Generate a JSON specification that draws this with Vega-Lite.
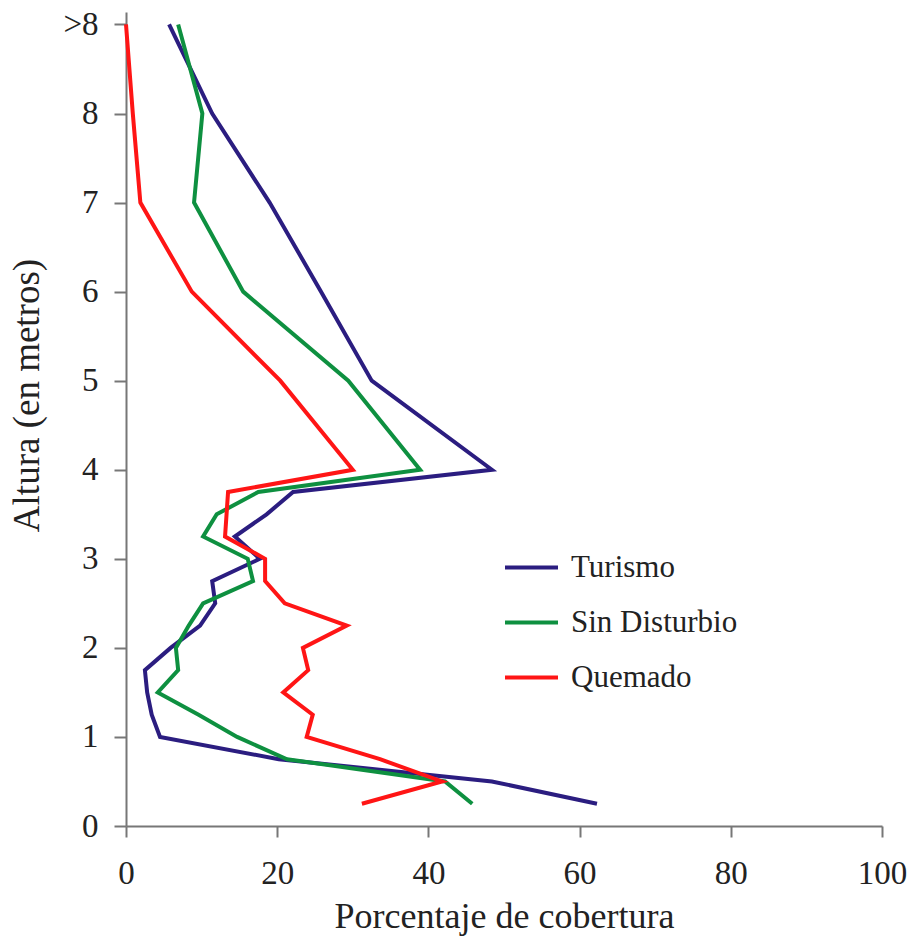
{
  "$schema": "https://vega.github.io/schema/vega-lite/v6.json",
  "width": 756,
  "height": 814,
  "autosize": {"type": "none"},
  "padding": {"left": 126, "top": 12, "right": 33, "bottom": 121},
  "background": "white",
  "config": {
    "view": {"stroke": null},
    "font": "Liberation Serif",
    "axis": {"grid": false}
  },
  "data": {
    "values": [
      {"serie": "Turismo", "altura": 9, "cobertura": 5.7},
      {"serie": "Turismo", "altura": 8, "cobertura": 11.4},
      {"serie": "Turismo", "altura": 7, "cobertura": 19.0},
      {"serie": "Turismo", "altura": 6, "cobertura": 25.8},
      {"serie": "Turismo", "altura": 5, "cobertura": 32.5},
      {"serie": "Turismo", "altura": 4, "cobertura": 48.4},
      {"serie": "Turismo", "altura": 3.75, "cobertura": 22.1},
      {"serie": "Turismo", "altura": 3.5, "cobertura": 18.6},
      {"serie": "Turismo", "altura": 3.25, "cobertura": 14.4},
      {"serie": "Turismo", "altura": 3.0, "cobertura": 17.7},
      {"serie": "Turismo", "altura": 2.75, "cobertura": 11.4},
      {"serie": "Turismo", "altura": 2.5, "cobertura": 11.8},
      {"serie": "Turismo", "altura": 2.25, "cobertura": 9.8},
      {"serie": "Turismo", "altura": 2.0, "cobertura": 5.9},
      {"serie": "Turismo", "altura": 1.75, "cobertura": 2.5},
      {"serie": "Turismo", "altura": 1.5, "cobertura": 2.8},
      {"serie": "Turismo", "altura": 1.25, "cobertura": 3.4},
      {"serie": "Turismo", "altura": 1.0, "cobertura": 4.5},
      {"serie": "Turismo", "altura": 0.75, "cobertura": 20.2},
      {"serie": "Turismo", "altura": 0.5, "cobertura": 48.4},
      {"serie": "Turismo", "altura": 0.25, "cobertura": 62.3},
      {"serie": "Sin Disturbio", "altura": 9, "cobertura": 6.9},
      {"serie": "Sin Disturbio", "altura": 8, "cobertura": 10.1},
      {"serie": "Sin Disturbio", "altura": 7, "cobertura": 9.0},
      {"serie": "Sin Disturbio", "altura": 6, "cobertura": 15.5},
      {"serie": "Sin Disturbio", "altura": 5, "cobertura": 29.4},
      {"serie": "Sin Disturbio", "altura": 4, "cobertura": 38.9},
      {"serie": "Sin Disturbio", "altura": 3.75, "cobertura": 17.5},
      {"serie": "Sin Disturbio", "altura": 3.5, "cobertura": 12.0},
      {"serie": "Sin Disturbio", "altura": 3.25, "cobertura": 10.2},
      {"serie": "Sin Disturbio", "altura": 3.0, "cobertura": 16.1},
      {"serie": "Sin Disturbio", "altura": 2.75, "cobertura": 16.8},
      {"serie": "Sin Disturbio", "altura": 2.5, "cobertura": 10.2},
      {"serie": "Sin Disturbio", "altura": 2.25, "cobertura": 8.3},
      {"serie": "Sin Disturbio", "altura": 2.0, "cobertura": 6.6},
      {"serie": "Sin Disturbio", "altura": 1.75, "cobertura": 6.9},
      {"serie": "Sin Disturbio", "altura": 1.5, "cobertura": 4.2},
      {"serie": "Sin Disturbio", "altura": 1.25, "cobertura": 9.6},
      {"serie": "Sin Disturbio", "altura": 1.0, "cobertura": 14.7},
      {"serie": "Sin Disturbio", "altura": 0.75, "cobertura": 21.3},
      {"serie": "Sin Disturbio", "altura": 0.5, "cobertura": 42.2},
      {"serie": "Sin Disturbio", "altura": 0.25, "cobertura": 45.8},
      {"serie": "Quemado", "altura": 9, "cobertura": 0.0},
      {"serie": "Quemado", "altura": 8, "cobertura": 0.9},
      {"serie": "Quemado", "altura": 7, "cobertura": 1.9},
      {"serie": "Quemado", "altura": 6, "cobertura": 8.7},
      {"serie": "Quemado", "altura": 5, "cobertura": 20.4},
      {"serie": "Quemado", "altura": 4, "cobertura": 30.0},
      {"serie": "Quemado", "altura": 3.75, "cobertura": 13.5},
      {"serie": "Quemado", "altura": 3.5, "cobertura": 13.3},
      {"serie": "Quemado", "altura": 3.25, "cobertura": 13.1},
      {"serie": "Quemado", "altura": 3.0, "cobertura": 18.4},
      {"serie": "Quemado", "altura": 2.75, "cobertura": 18.4},
      {"serie": "Quemado", "altura": 2.5, "cobertura": 21.0},
      {"serie": "Quemado", "altura": 2.25, "cobertura": 29.2},
      {"serie": "Quemado", "altura": 2.0, "cobertura": 23.4},
      {"serie": "Quemado", "altura": 1.75, "cobertura": 24.1},
      {"serie": "Quemado", "altura": 1.5, "cobertura": 20.8},
      {"serie": "Quemado", "altura": 1.25, "cobertura": 24.7},
      {"serie": "Quemado", "altura": 1.0, "cobertura": 23.9},
      {"serie": "Quemado", "altura": 0.75, "cobertura": 33.6},
      {"serie": "Quemado", "altura": 0.5, "cobertura": 41.8},
      {"serie": "Quemado", "altura": 0.25, "cobertura": 31.2}
    ]
  },
  "mark": {"type": "line", "strokeWidth": 4, "strokeJoin": "miter"},
  "encoding": {
    "x": {
      "field": "cobertura",
      "type": "quantitative",
      "scale": {"domain": [0, 100], "nice": false},
      "axis": {
        "title": "Porcentaje de cobertura",
        "values": [0, 20, 40, 60, 80, 100],
        "domainColor": "#777777",
        "domainWidth": 2,
        "tickColor": "#777777",
        "tickWidth": 2,
        "tickSize": 11,
        "labelFontSize": 33,
        "labelColor": "#222222",
        "labelPadding": 20,
        "labelFlush": false,
        "titleFontSize": 36,
        "titleFontWeight": "normal",
        "titleColor": "#222222",
        "titleBaseline": "alphabetic",
        "titleY": 101
      }
    },
    "y": {
      "field": "altura",
      "type": "quantitative",
      "scale": {"domain": [0, 9.14], "nice": false},
      "axis": {
        "title": "Altura (en metros)",
        "values": [0, 1, 2, 3, 4, 5, 6, 7, 8, 9],
        "labelExpr": "datum.value == 9 ? '>8' : datum.label",
        "domainColor": "#777777",
        "domainWidth": 2,
        "tickColor": "#777777",
        "tickWidth": 2,
        "tickSize": 12,
        "labelFontSize": 33,
        "labelColor": "#222222",
        "labelPadding": 16,
        "labelFlush": false,
        "labelBaseline": "middle",
        "titleFontSize": 37,
        "titleFontWeight": "normal",
        "titleColor": "#222222",
        "titleBaseline": "alphabetic",
        "titleX": -88,
        "titleY": 383
      }
    },
    "color": {
      "field": "serie",
      "type": "nominal",
      "scale": {
        "domain": ["Turismo", "Sin Disturbio", "Quemado"],
        "range": ["#2B1D80", "#0E9040", "#FF1515"]
      },
      "legend": {
        "title": null,
        "orient": "none",
        "legendX": 377,
        "legendY": 527,
        "padding": 0,
        "symbolType": "stroke",
        "symbolSize": 2809,
        "symbolStrokeWidth": 4,
        "labelFontSize": 31,
        "labelColor": "#222222",
        "labelOffset": 11,
        "rowPadding": 11,
        "labelLimit": 400
      }
    },
    "order": {"field": "altura", "type": "quantitative"}
  }
}
